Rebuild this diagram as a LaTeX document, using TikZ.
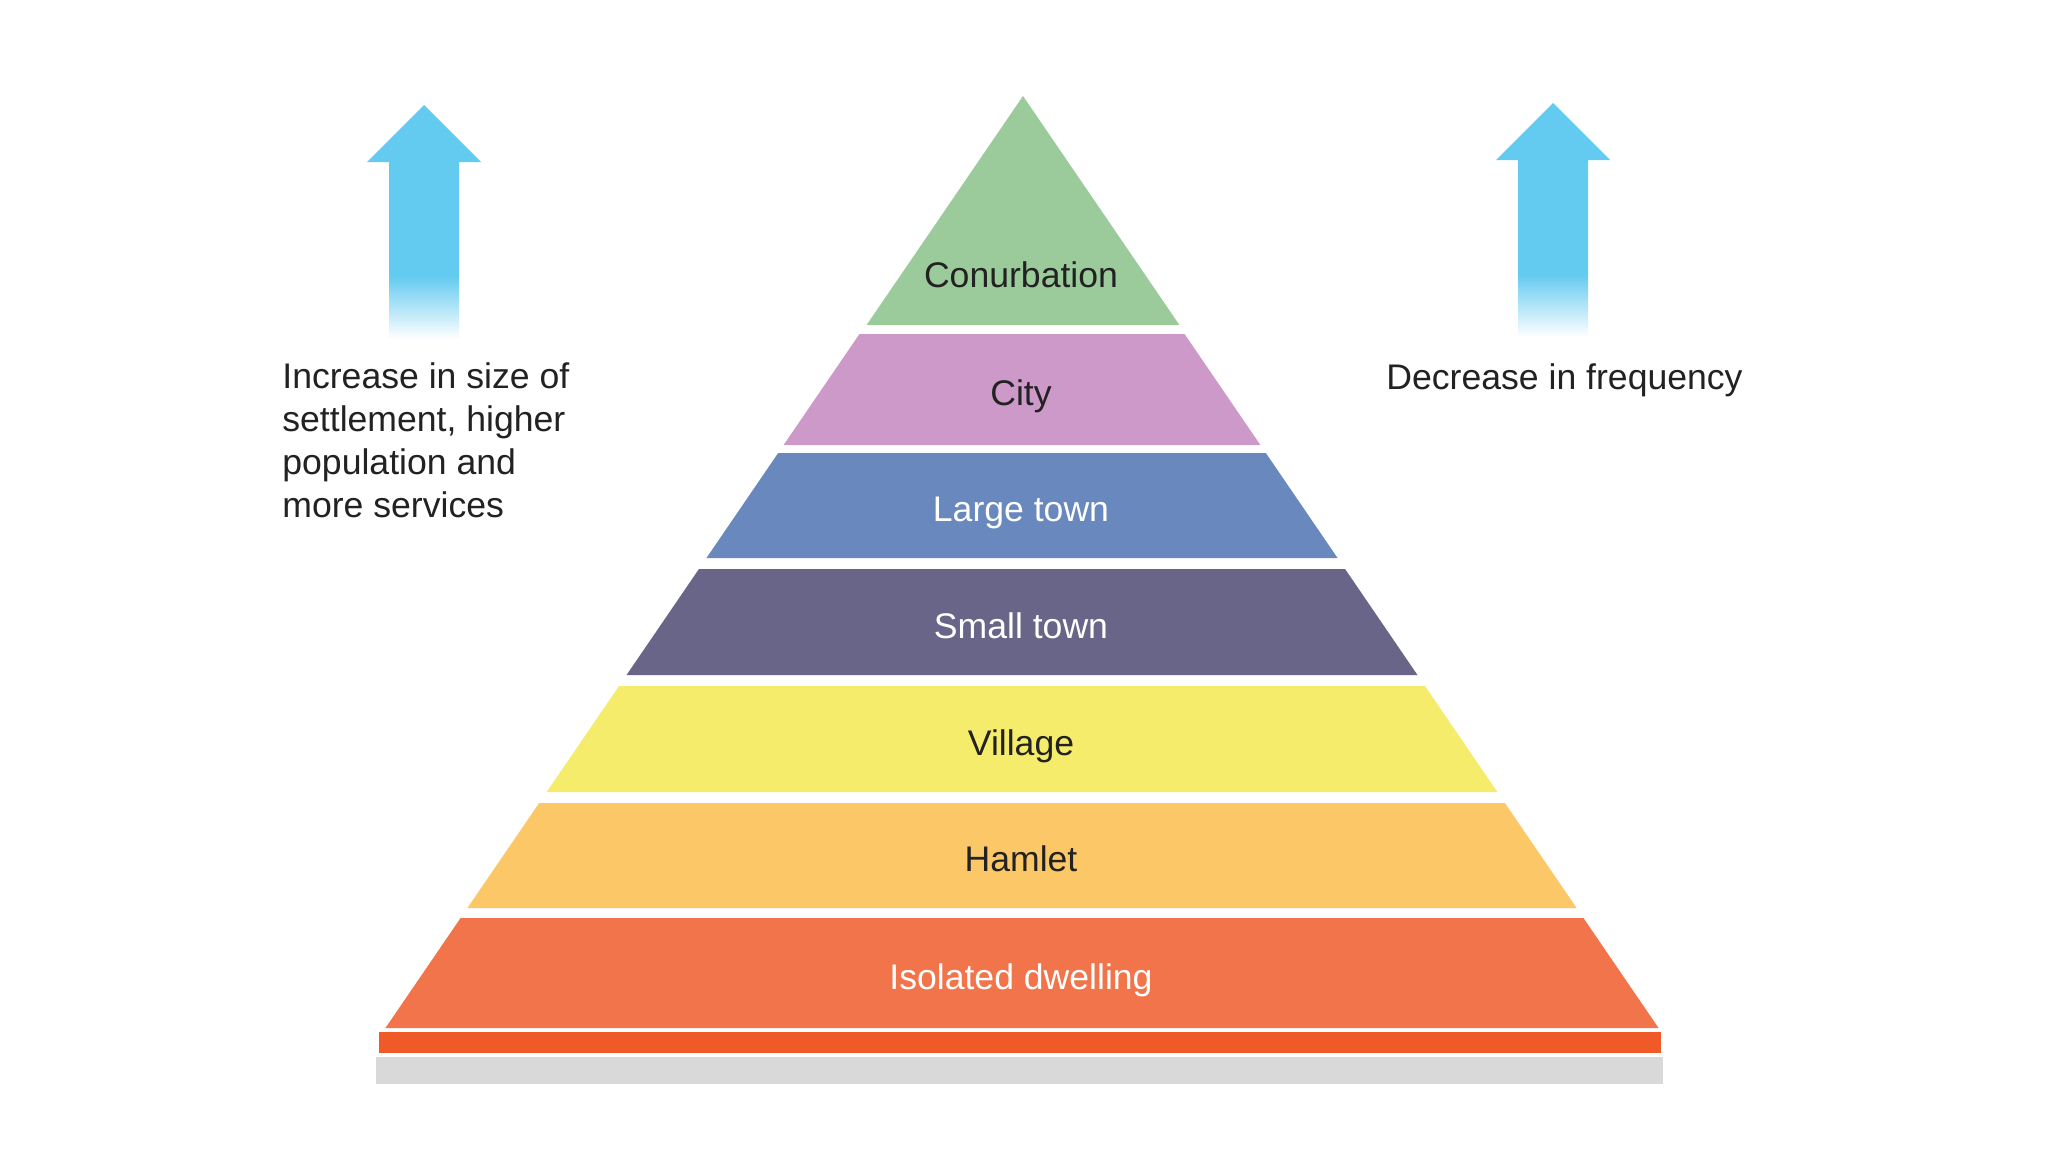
\documentclass[tikz,border=0pt]{standalone}
\usepackage{fontspec}
\setmainfont{Liberation Sans}
\definecolor{cgreen}{RGB}{155,203,155}
\definecolor{ccity}{RGB}{204,153,200}
\definecolor{clarge}{RGB}{104,136,190}
\definecolor{csmall}{RGB}{105,101,136}
\definecolor{cvillage}{RGB}{244,236,106}
\definecolor{chamlet}{RGB}{252,200,103}
\definecolor{ciso}{RGB}{242,116,74}
\definecolor{cstrip}{RGB}{240,89,40}
\definecolor{cgray}{RGB}{217,217,217}
\definecolor{carrow}{RGB}{99,202,240}
\definecolor{ctext}{RGB}{34,34,34}
\newcommand\pyrlayer[6]{%
  \fill[#3] ({1022-0.683*(#1-96)},#1) -- ({1022+0.683*(#1-96)},#1)
     -- ({1022+0.683*(#2-96)},#2) -- ({1022-0.683*(#2-96)},#2) -- cycle;
  \node[lbl, text=#6, anchor=base] (#4) at (1021,{(#1+#2)/2+16}) {#5};}
\newcommand\fadearrow[2]{% #1 = centre x, #2 = tip y
  \fill[carrow] (#1,#2) -- (#1+57,#2+57) -- (#1+35,#2+57) -- (#1+35,#2+172)
     -- (#1-35,#2+172) -- (#1-35,#2+57) -- (#1-57,#2+57) -- cycle;
  \shade[top color=carrow, bottom color=white] (#1-35,#2+171) rectangle (#1+35,#2+234);}
\begin{document}
\begin{tikzpicture}[x=0.5pt,y=-0.5pt,
  lbl/.style={font=\fontsize{17.8}{21.5}\selectfont, inner sep=0pt},
  side/.style={font=\fontsize{17.8}{21.5}\selectfont, inner sep=0pt, text=ctext, anchor=base west}]
\useasboundingbox[fill=white] (0,0) rectangle (2048,1152);
% apex triangle
\fill[cgreen] (1023,96) -- ({1023+0.683*(325-96)},325) -- ({1023-0.683*(325-96)},325) -- cycle;
\node[lbl, text=ctext, anchor=base] (conurb) at (1021,287) {Conurbation};
\pyrlayer{334}{445}{ccity}{city}{City}{ctext}
\pyrlayer{453}{558}{clarge}{large}{Large town}{white}
\pyrlayer{569}{675}{csmall}{small}{Small town}{white}
\pyrlayer{686}{792}{cvillage}{village}{Village}{ctext}
\pyrlayer{803}{908}{chamlet}{hamlet}{Hamlet}{ctext}
\pyrlayer{918}{1028}{ciso}{iso}{Isolated dwelling}{white}
% base strips
\fill[cstrip] (379,1032) rectangle (1661,1053);
\fill[cgray] (376,1057) rectangle (1663,1084);
% arrows
\fadearrow{424}{105}
\fadearrow{1553}{103}
% side texts
\node[side] (l1) at (282,388) {Increase in size of};
\node[side] (l2) at (282,431) {settlement, higher};
\node[side] (l3) at (282,474) {population and};
\node[side] (l4) at (282,517) {more services};
\node[side] (r1) at (1386,389) {Decrease in frequency};
\end{tikzpicture}
\end{document}
